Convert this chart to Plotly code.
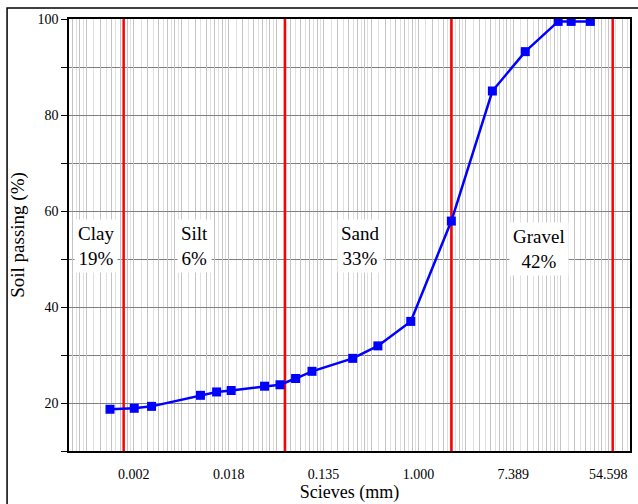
import math
import plotly.graph_objects as go

# Grain size (mm) from sieving / hydrometer and cumulative percent passing
grain_size_mm = [0.0015, 0.0025, 0.0036, 0.0101, 0.0142, 0.0193, 0.039, 0.054,
                 0.075, 0.106, 0.25, 0.425, 0.85, 2.0, 4.75, 9.5, 19.0, 25.0, 37.5]
percent_passing = [18.7, 18.9, 19.3, 21.6, 22.3, 22.6, 23.5, 23.8,
                   25.1, 26.6, 29.3, 31.9, 37.0, 57.9, 85.0, 93.2, 99.5, 99.5, 99.5]

# Soil fraction boundaries (mm): clay/silt, silt/sand, sand/gravel, gravel/cobble
boundaries_mm = [0.002, 0.06, 2.0, 60.0]

# Fraction labels and their share of the sample
fraction_names = ["Clay", "Silt", "Sand", "Gravel"]
fraction_percent = [19, 6, 33, 42]

# Labelled x ticks sit at powers of e
tick_exponents = [-6, -4, -2, 0, 2, 4]
tick_labels = ["0.002", "0.018", "0.135", "1.000", "7.389", "54.598"]

FONT = "Liberation Serif, Times New Roman, serif"

# Grid values along the ln-scaled size axis: each e-interval split in ten
major_grid, minor_grid = [], []
for n in range(-8, 5):
    for k in range(10):
        v = math.exp(n) * (1 + k * (math.e - 1) / 10)
        (major_grid if k % 2 == 0 else minor_grid).append(v)

tickvals, ticktext = [], []
for v in major_grid:
    tickvals.append(v)
    label = ""
    for e, t in zip(tick_exponents, tick_labels):
        if abs(math.log(v) - e) < 1e-9:
            label = t
    ticktext.append(label)

y_lo, y_hi = 10, 100

fig = go.Figure()

# Red fraction-boundary lines
bx, by = [], []
for b in boundaries_mm:
    bx += [b, b, None]
    by += [y_lo, y_hi, None]
fig.add_trace(go.Scatter(x=bx, y=by, mode="lines",
                         line=dict(color="#ff0000", width=2.5),
                         hoverinfo="skip", showlegend=False))

# Grading curve
fig.add_trace(go.Scatter(x=grain_size_mm, y=percent_passing, mode="lines+markers",
                         line=dict(color="#0000ff", width=2.5),
                         marker=dict(symbol="square", size=9, color="#0000ff"),
                         showlegend=False))

# Fraction labels, boxed on white
label_pos = [(0.049, 0.4745), (0.2244, 0.4745), (0.52, 0.4745), (0.837, 0.4676)]
for name, pct, (px, py) in zip(fraction_names, fraction_percent, label_pos):
    fig.add_annotation(x=px, y=py, xref="paper", yref="paper",
                       xanchor="center", yanchor="middle",
                       text=f"{name}<br>{pct}%", showarrow=False,
                       bgcolor="white", borderpad=3,
                       font=dict(family=FONT, size=19, color="black"))

# Outer frame around the figure
fig.add_shape(type="rect", xref="paper", yref="paper",
              x0=-0.1104, x1=1.3, y0=-0.4, y1=1.0255,
              line=dict(color="black", width=1.5), layer="above")

fig.update_xaxes(
    type="log",
    range=[math.log10(6.32e-4), math.log10(86.4)],
    tickmode="array", tickvals=tickvals, ticktext=ticktext,
    ticks="", ticklabelstandoff=9,
    tickfont=dict(family=FONT, size=14, color="black"),
    showgrid=True, gridcolor="#c4c4c4", gridwidth=1,
    minor=dict(tickmode="array", tickvals=minor_grid, showgrid=True,
               gridcolor="#e0e0e0", gridwidth=1),
    showline=True, linecolor="black", linewidth=1.5, mirror=True,
    zeroline=False,
    title=dict(text="Scieves (mm)", font=dict(family=FONT, size=18, color="black"),
               standoff=2),
)
fig.update_yaxes(
    range=[y_lo, y_hi],
    tickmode="linear", tick0=0, dtick=20,
    ticks="outside", ticklen=6, tickwidth=1.2, tickcolor="black",
    tickfont=dict(family=FONT, size=14, color="black"),
    showgrid=True, gridcolor="#7f7f7f", gridwidth=1,
    minor=dict(tick0=0, dtick=10, ticks="outside", ticklen=6, tickwidth=1.2,
               tickcolor="black", showgrid=True, gridcolor="#7f7f7f", gridwidth=1),
    showline=True, linecolor="black", linewidth=1.5, mirror=True,
    zeroline=False,
    title=dict(text="Soil passing (%)", font=dict(family=FONT, size=19, color="black"),
               standoff=8),
)

fig.update_layout(
    width=638, height=504,
    margin=dict(l=69, r=7.5, t=19, b=53),
    paper_bgcolor="white", plot_bgcolor="white",
    font=dict(family=FONT, color="black"),
)

fig.write_html("out.html")
